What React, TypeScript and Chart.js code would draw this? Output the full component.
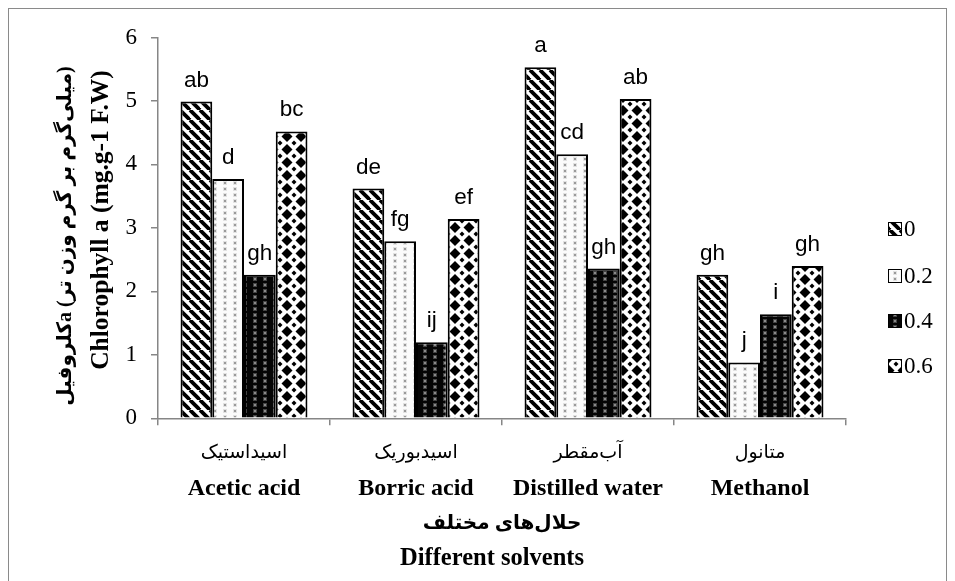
import React, { useEffect, useRef } from 'react';
import { Chart, registerables } from 'chart.js';
Chart.register(...registerables);

const categoriesFa = ['اسیداستیک', 'اسیدبوریک', 'آب‌مقطر', 'متانول'];
const categoriesEn = ['Acetic acid', 'Borric acid', 'Distilled water', 'Methanol'];
const seriesNames = ['0', '0.2', '0.4', '0.6'];
const values0 = [4.99, 3.62, 5.53, 2.26];
const values02 = [3.77, 2.79, 4.16, 0.88];
const values04 = [2.26, 1.2, 2.36, 1.64];
const values06 = [4.52, 3.14, 5.03, 2.4];
const letters0 = ['ab', 'de', 'a', 'gh'];
const letters02 = ['d', 'fg', 'cd', 'j'];
const letters04 = ['gh', 'ij', 'gh', 'i'];
const letters06 = ['bc', 'ef', 'ab', 'gh'];
const yTitleEn = 'Chlorophyll a (mg.g-1 F.W)';
const yTitleFa = 'کلروفیلa (میلی‌گرم بر گرم وزن تر)';
const xTitleFa = 'حلال‌های مختلف';
const xTitleEn = 'Different solvents';

function makePattern(kind: number): CanvasPattern | string {
  const c = document.createElement('canvas');
  const g = c.getContext('2d')!;
  if (kind === 0) {
    c.width = 10; c.height = 10;
    g.fillStyle = '#fff'; g.fillRect(0, 0, 10, 10);
    g.strokeStyle = '#000'; g.lineWidth = 3.8;
    for (const o of [-10, 0, 10]) {
      g.beginPath(); g.moveTo(o, 0); g.lineTo(o + 10, 10); g.stroke();
    }
  } else if (kind === 1) {
    c.width = 10; c.height = 6;
    g.fillStyle = '#fbfbfb'; g.fillRect(0, 0, 10, 6);
    g.fillStyle = '#e2e2e2'; g.fillRect(3, 1, 4, 4);
    g.fillStyle = '#9a9a9a'; g.fillRect(4, 2, 2, 2);
  } else if (kind === 2) {
    c.width = 10; c.height = 6;
    g.fillStyle = '#050505'; g.fillRect(0, 0, 10, 6);
    g.fillStyle = '#444'; g.fillRect(3, 1, 4, 4);
    g.fillStyle = '#8a8a8a'; g.fillRect(4, 2, 2, 2);
  } else {
    c.width = 14; c.height = 13;
    g.fillStyle = '#fff'; g.fillRect(0, 0, 14, 13);
    g.fillStyle = '#000';
    const dia = (cx: number, cy: number, r: number) => {
      g.beginPath(); g.moveTo(cx, cy - r); g.lineTo(cx + r, cy); g.lineTo(cx, cy + r); g.lineTo(cx - r, cy); g.closePath(); g.fill();
    };
    dia(7, 6.5, 5.5);
    for (const [x, y] of [[0, 0], [14, 0], [0, 13], [14, 13]]) dia(x, y, 2.5);
  }
  return g.createPattern(c, 'repeat') || '#888';
}

export default function App() {
  const ref = useRef<HTMLCanvasElement>(null);
  useEffect(() => {
    const canvas = ref.current!;
    const patterns = [0, 1, 2, 3].map(makePattern);
    const letters = [letters0, letters02, letters04, letters06];
    const overlay = {
      id: 'overlay',
      afterDatasetsDraw(chart: any) {
        const ctx = chart.ctx as CanvasRenderingContext2D;
        const area = chart.chartArea;
        ctx.save();
        // outer frame
        ctx.strokeStyle = '#8a8a8a';
        ctx.lineWidth = 1;
        ctx.strokeRect(8.5, 8.5, 938, 620);
        // letters above bars
        ctx.fillStyle = '#000';
        ctx.font = '22.5px "Liberation Sans", Arial, sans-serif';
        ctx.textAlign = 'center';
        ctx.textBaseline = 'alphabetic';
        chart.data.datasets.forEach((ds: any, i: number) => {
          const meta = chart.getDatasetMeta(i);
          meta.data.forEach((bar: any, j: number) => {
            ctx.fillText(letters[i][j], bar.x, bar.y - 15);
          });
        });
        // category labels
        const xs = chart.scales.x;
        categoriesEn.forEach((en, j) => {
          const cx = xs.getPixelForValue(j);
          ctx.font = '19px "Liberation Serif", "DejaVu Sans", serif';
          ctx.textBaseline = 'middle';
          ctx.fillText(categoriesFa[j], cx, 453);
          ctx.font = 'bold 24px "Liberation Serif", serif';
          ctx.fillText(en, cx, 489);
        });
        const mid = (area.left + area.right) / 2;
        ctx.font = 'bold 20px "Liberation Serif", "DejaVu Sans", serif';
        ctx.fillText(xTitleFa, mid, 524);
        ctx.font = 'bold 24.5px "Liberation Serif", serif';
        ctx.fillText(xTitleEn, mid - 10, 559);
        // y titles
        ctx.save();
        ctx.translate(101, 220);
        ctx.rotate(-Math.PI / 2);
        ctx.font = 'bold 25.5px "Liberation Serif", serif';
        ctx.fillText(yTitleEn, 0, 0);
        ctx.restore();
        ctx.save();
        ctx.translate(66, 236);
        ctx.rotate(-Math.PI / 2);
        ctx.direction = 'ltr';
        ctx.font = 'bold 20px "Liberation Serif", "DejaVu Sans", serif';
        ctx.fillText(yTitleFa, 0, 0);
        ctx.restore();
        // legend
        const ly = [229, 276, 321, 366];
        seriesNames.forEach((name, i) => {
          ctx.fillStyle = patterns[i] as any;
          ctx.fillRect(888, ly[i] - 7, 14, 14);
          ctx.strokeStyle = '#000';
          ctx.lineWidth = 1;
          ctx.strokeRect(888.5, ly[i] - 6.5, 13, 13);
          ctx.fillStyle = '#000';
          ctx.font = '23px "Liberation Serif", serif';
          ctx.textAlign = 'left';
          ctx.textBaseline = 'middle';
          ctx.fillText(name, 904, ly[i] + 1);
        });
        ctx.restore();
      },
    };
    const vals = [values0, values02, values04, values06];
    const chart = new Chart(canvas, {
      type: 'bar',
      data: {
        labels: categoriesEn,
        datasets: seriesNames.map((n, i) => ({
          label: n,
          data: vals[i],
          backgroundColor: patterns[i] as any,
          borderColor: '#000',
          borderWidth: 2,
          categoryPercentage: 0.738,
          barPercentage: 1,
        })),
      },
      options: {
        responsive: false,
        animation: false,
        layout: { padding: { left: 0, top: 37.5, right: 109, bottom: 0 } },
        plugins: { legend: { display: false }, tooltip: { enabled: false } },
        scales: {
          x: {
            offset: true,
            grid: { offset: true, drawOnChartArea: false, tickLength: 7, color: '#868686', lineWidth: 1.5 },
            border: { color: '#868686', width: 1.5 },
            ticks: { display: false },
            afterFit: (s: any) => { s.height = 581 - 418.3; },
          },
          y: {
            min: 0,
            max: 6,
            ticks: { stepSize: 1, color: '#000', padding: 14, font: { family: '"Liberation Serif", serif', size: 23 } },
            grid: { drawOnChartArea: false, tickLength: 7, color: '#868686', lineWidth: 1.5 },
            border: { color: '#868686', width: 1.5 },
            afterFit: (s: any) => { s.width = 158; },
          },
        },
      },
      plugins: [overlay],
    });
    return () => chart.destroy();
  }, []);
  return (
    <div style={{ position: 'absolute', left: 0, top: 0, width: 955, height: 581, background: '#fff' }}>
      <canvas ref={ref} width={955} height={581} style={{ width: 955, height: 581, display: 'block' }} />
    </div>
  );
}
